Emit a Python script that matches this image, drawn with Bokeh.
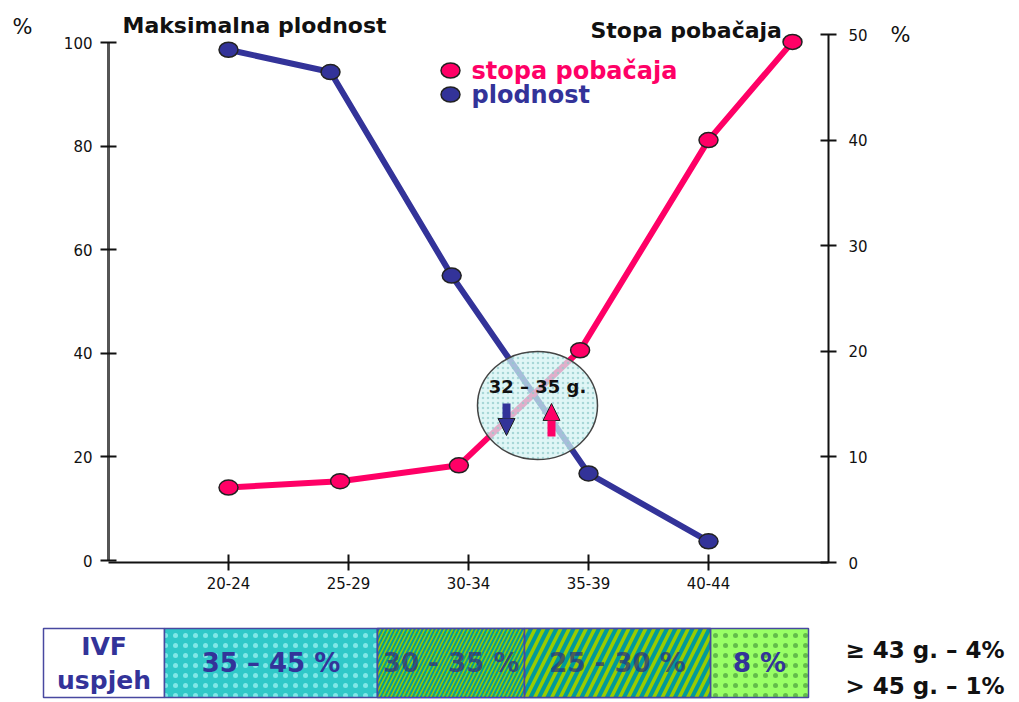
from bokeh.plotting import figure
from bokeh.models import Range1d, LinearAxis, FixedTicker, Label, Arrow, NormalHead
from bokeh.layouts import column
from bokeh.embed import file_html
from bokeh.resources import INLINE

# ---------------- data ----------------
ages = ["20-24", "25-29", "30-34", "35-39", "40-44"]
plodnost_x = [1.0, 1.85, 2.86, 4.0, 5.0]
plodnost = [98.6, 94.3, 55.0, 16.8, 3.7]
pobacaj_x = [1.0, 1.93, 2.92, 3.93, 5.0, 5.7]
pobacaj = [7.1, 7.7, 9.2, 20.1, 40.0, 49.3]
left_ticks = [0, 20, 40, 60, 80, 100]
right_ticks = [0, 10, 20, 30, 40, 50]
series_names = ["stopa pobačaja", "plodnost"]
axis_titles = ["Maksimalna plodnost", "Stopa pobačaja"]
unit_label = "%"
cross_label = "32 – 35 g."
ivf_head = ["IVF", "uspjeh"]
ivf_labels = ["35 – 45 %", "30 - 35 %", "25 - 30 %", "8 %"]
ivf_notes = ["≥ 43 g. – 4%", "> 45 g. – 1%"]

# ---------------- layout / style ----------------
W = 1016
H1 = 600
H2 = 100
FL, FR, FT, FB = 108, 828, 0, 562          # frame box in canvas px
X0, X1 = 0, 6
LPX = 518 / 100                              # px per left-axis unit (0 at 560, 100 at 42)
Y0 = -(FB - 560) / LPX
Y1 = 100 + (42 - FT) / LPX
RPX = 528 / 50                               # px per right-axis unit (0 at 562, 50 at 34)
R0 = 0
R1 = (FB - FT) / RPX
FONT = "DejaVu Sans"
BLUE = "#333399"
PINK = "#FF0066"


def ix(xi):  # canvas px -> data x
    return X0 + (xi - FL) / (FR - FL) * (X1 - X0)


def iy(yi):  # canvas px -> data y (left axis units)
    return Y1 - (yi - FT) / (FB - FT) * (Y1 - Y0)


p = figure(width=W, height=H1, x_range=Range1d(X0, X1), y_range=Range1d(Y0, Y1),
           x_axis_type=None, y_axis_type=None, title=None,
           output_backend="svg", toolbar_location=None,
           min_border_left=FL, min_border_right=W - FR,
           min_border_top=FT, min_border_bottom=H1 - FB,
           outline_line_color=None, background_fill_color="white")
p.extra_y_ranges = {"right": Range1d(R0, R1)}
try:
    p.frame_align = False
except Exception:
    pass


def style_axis(ax, color="#111111", width=2):
    ax.axis_line_color = color
    ax.axis_line_width = width
    ax.major_tick_line_color = "#111111"
    ax.major_tick_line_width = 2
    ax.major_tick_in = 8
    ax.major_tick_out = 8
    ax.minor_tick_line_color = None
    ax.major_label_text_font = FONT
    ax.major_label_text_font_size = "15px"
    ax.major_label_text_color = "#111111"


xaxis = LinearAxis(ticker=FixedTicker(ticks=list(range(1, len(ages) + 1))),
                   major_label_overrides={i + 1: a for i, a in enumerate(ages)},
                   bounds=(X0, X1))
style_axis(xaxis)
xaxis.major_label_standoff = 6
p.add_layout(xaxis, "below")

yaxis = LinearAxis(ticker=FixedTicker(ticks=left_ticks), bounds=(0, 100))
style_axis(yaxis, color="#555555", width=3)
yaxis.major_label_standoff = 8
p.add_layout(yaxis, "left")

raxis = LinearAxis(y_range_name="right", ticker=FixedTicker(ticks=right_ticks),
                   bounds=(0, 50))
style_axis(raxis, width=2)
raxis.major_label_standoff = 12
p.add_layout(raxis, "right")


def unit_axis(tick, **kw):
    ax = LinearAxis(ticker=FixedTicker(ticks=[tick]),
                    major_label_overrides={tick: unit_label}, **kw)
    ax.axis_line_color = None
    ax.major_tick_line_color = None
    ax.minor_tick_line_color = None
    ax.major_tick_in = 0
    ax.major_tick_out = 0
    ax.major_label_text_font = FONT
    ax.major_label_text_font_size = "21px"
    ax.major_label_text_color = "#111111"
    return ax


lunit = unit_axis(103)
lunit.major_label_standoff = 28
p.add_layout(lunit, "left")
runit = unit_axis(50, y_range_name="right")
runit.major_label_standoff = 20
p.add_layout(runit, "right")

# lines
p.line(plodnost_x, plodnost, line_color=BLUE, line_width=6)
p.line(pobacaj_x, pobacaj, line_color=PINK, line_width=6, y_range_name="right")

# crossover ellipse
p.ellipse(x=[ix(537)], y=[iy(405)], width=120, height=108,
          width_units="screen", height_units="screen",
          fill_color="#d4f2f2", fill_alpha=0.72,
          hatch_pattern=".", hatch_color="#8fcaca", hatch_scale=5, hatch_alpha=0.7,
          line_color="#444444", line_width=1.5)

# markers
p.ellipse(plodnost_x, plodnost, width=19, height=15, width_units="screen",
          height_units="screen", fill_color=BLUE, line_color="#222222", line_width=1.5)
p.ellipse(pobacaj_x, pobacaj, width=19, height=15, width_units="screen",
          height_units="screen", fill_color=PINK, line_color="#222222", line_width=1.5,
          y_range_name="right")

# legend
leg_y = [70, 94]
leg_col = [PINK, BLUE]
p.ellipse([ix(450)] * 2, [iy(v) for v in leg_y], width=19, height=15,
          width_units="screen", height_units="screen",
          fill_color=leg_col, line_color="#222222", line_width=1.5)
for name, yy, col in zip(series_names, leg_y, leg_col):
    p.add_layout(Label(x=ix(471), y=iy(yy), text=name, text_color=col,
                       text_font=FONT, text_font_style="bold", text_font_size="24px",
                       text_baseline="middle"))

# titles
p.add_layout(Label(x=ix(122), y=iy(25), text=axis_titles[0], text_font=FONT,
                   text_font_style="bold", text_font_size="22px", text_baseline="middle",
                   text_color="#111111"))
p.add_layout(Label(x=ix(590), y=iy(30), text=axis_titles[1], text_font=FONT,
                   text_font_style="bold", text_font_size="22px", text_baseline="middle",
                   text_color="#111111"))

# ellipse text and arrows
p.add_layout(Label(x=ix(537), y=iy(386), text=cross_label, text_font=FONT,
                   text_font_style="bold", text_font_size="18px", text_align="center",
                   text_baseline="middle", text_color="#111111"))
p.add_layout(Arrow(x_start=ix(506), y_start=iy(403), x_end=ix(506), y_end=iy(435),
                   line_color=BLUE, line_width=8,
                   end=NormalHead(size=17, fill_color=BLUE, line_color="#222222",
                                  line_width=1)))
p.add_layout(Arrow(x_start=ix(551), y_start=iy(436), x_end=ix(551), y_end=iy(403),
                   line_color=PINK, line_width=8,
                   end=NormalHead(size=17, fill_color=PINK, line_color="#222222",
                                  line_width=1)))

# ---------------- IVF bar ----------------
q = figure(width=W, height=H2, x_range=Range1d(0, W), y_range=Range1d(H2, 0),
           x_axis_type=None, y_axis_type=None, title=None,
           output_backend="svg", toolbar_location=None,
           min_border=0, min_border_left=0, min_border_right=0,
           min_border_top=0, min_border_bottom=0,
           outline_line_color=None, background_fill_color="white")
try:
    q.frame_align = False
except Exception:
    pass

edges = [43, 164, 377, 524, 710, 808]
top, bot = 28, 97
mid_y = (top + bot) / 2
fills = ["white", "#30C8C8", "#009a9a", "#009a9a", "#99FF66"]
BORDER = "#4848a0"

for i in range(5):
    kw = {}
    if i == 1:
        kw = dict(hatch_pattern=".", hatch_color="#8aeaea", hatch_scale=10, hatch_alpha=0.9)
    if i == 4:
        kw = dict(hatch_pattern=".", hatch_color="#55aa44", hatch_scale=10, hatch_alpha=0.8)
    q.quad(left=[edges[i]], right=[edges[i + 1]], top=[top], bottom=[bot],
           fill_color=fills[i], line_color=BORDER, line_width=1.5, **kw)

# diagonal stripes
q.quad(left=[edges[2]], right=[edges[3]], top=[top], bottom=[bot], fill_alpha=0,
       hatch_pattern="/", hatch_color="#99CC00", hatch_scale=8, hatch_weight=1.6,
       line_color=BORDER, line_width=1.5)
q.quad(left=[edges[3]], right=[edges[4]], top=[top], bottom=[bot], fill_alpha=0,
       hatch_pattern="/", hatch_color="#99CC00", hatch_scale=17, hatch_weight=3.5,
       line_color=BORDER, line_width=1.5)

centers = [(edges[i] + edges[i + 1]) / 2 for i in range(5)]
q.text(x=[centers[0]] * 2, y=[top + 18, bot - 17], text=ivf_head, text_align="center",
       text_baseline="middle", text_font_size="25px", text_font_style="bold",
       text_color=BLUE, text_font={"value": FONT})
q.text(x=centers[1:], y=[mid_y] * 4, text=ivf_labels, text_align="center",
       text_baseline="middle", text_font_size="26px", text_font_style="bold",
       text_color=[BLUE, "#2a2a80", "#2a2a80", BLUE], text_alpha=[1, 0.7, 0.7, 1],
       text_font={"value": FONT})

q.text(x=[845, 845], y=[49, 85], text=ivf_notes, text_align="left",
       text_baseline="middle", text_font_size="23px", text_font_style="bold",
       text_color="#111111", text_font={"value": FONT})

layout = column(p, q)
open("out.html", "w").write(file_html(layout, INLINE))
